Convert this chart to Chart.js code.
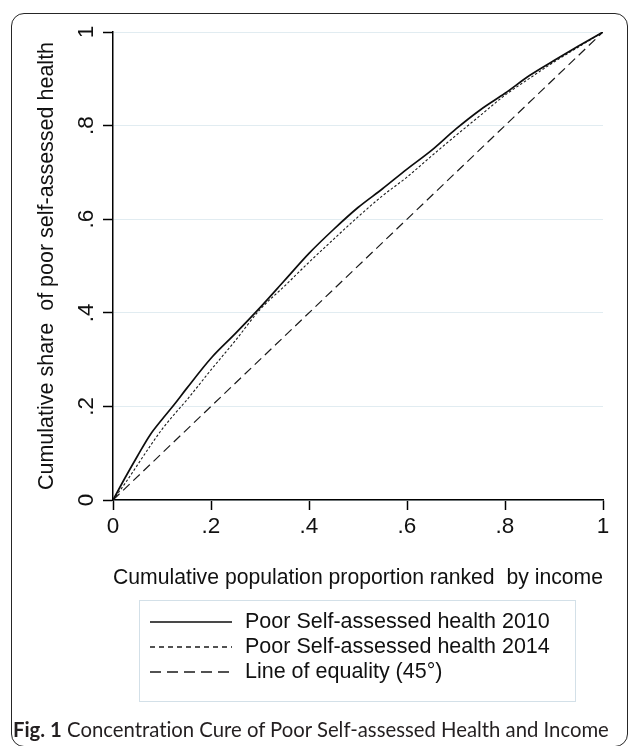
<!DOCTYPE html>
<html>
<head>
<meta charset="utf-8">
<script src="https://cdn.jsdelivr.net/npm/chart.js@4.4.1/dist/chart.umd.min.js"></script>
<style>
  html, body { margin: 0; padding: 0; background: #ffffff; }
  #wrap { position: relative; width: 630px; height: 746px; overflow: hidden; }
  #frame {
    position: absolute; left: 11px; top: 13px; width: 617px; height: 734px;
    box-sizing: border-box; border: 1.6px solid #262626; border-radius: 13px;
  }
  #c { position: absolute; left: 0; top: 0; }
  #caption {
    position: absolute; left: 13px; top: 717px; height: 24px; line-height: 24px;
    font-family: Lato, sans-serif; font-size: 20px; color: #231f20;
    white-space: pre; font-variant-ligatures: none; font-feature-settings: "liga" 0, "clig" 0;
  }
  #caption b { font-weight: 700; }
</style>
</head>
<body>
<div id="wrap">
  <div id="frame"></div>
  <canvas id="c" width="630" height="746"></canvas>
  <div id="caption"><b id="capBold"></b><span id="capText"></span></div>
</div>
<script>
// Cumulative population share ranked by income (x) and cumulative share of poor SAH (y)
const popShare = [0, 0.025, 0.05, 0.075, 0.10, 0.125, 0.15, 0.20, 0.25, 0.30, 0.35, 0.40,
                  0.45, 0.50, 0.55, 0.60, 0.65, 0.70, 0.75, 0.80, 0.85, 0.90, 0.95, 1.0];
const poorSAH2010 = [0, 0.048, 0.094, 0.138, 0.172, 0.204, 0.238, 0.303, 0.356, 0.411, 0.469, 0.527,
                     0.578, 0.625, 0.665, 0.707, 0.747, 0.793, 0.834, 0.869, 0.907, 0.939, 0.970, 1.0];
const poorSAH2014 = [0, 0.036, 0.075, 0.114, 0.151, 0.183, 0.213, 0.278, 0.341, 0.407, 0.457, 0.508,
                     0.557, 0.605, 0.650, 0.690, 0.735, 0.779, 0.822, 0.865, 0.901, 0.936, 0.968, 1.0];
const equalityX = [0, 1];
const equalityY = [0, 1];

const seriesLabels = ['Poor Self-assessed health 2010', 'Poor Self-assessed health 2014', 'Line of equality (45\u00b0)'];
const tickValues = [0, 0.2, 0.4, 0.6, 0.8, 1];
const tickLabels = ['0', '.2', '.4', '.6', '.8', '1'];
const xTitle = 'Cumulative population proportion ranked  by income';
const yTitle = 'Cumulative share  of poor self-assessed health';
const captionBold = 'Fig. 1';
const captionText = ' Concentration Cure of Poor Self-assessed Health and Income';

const FONT = '"Liberation Sans", Arial, sans-serif';
const INK = '#111111';
const legendDashes = [[], [5, 4], [11, 6]];

const toPoints = (xs, ys) => xs.map((x, i) => ({ x: x, y: ys[i] }));

// Figure caption, scaled so it spans the frame width
(function () {
  document.getElementById('capBold').textContent = captionBold;
  document.getElementById('capText').textContent = captionText;
  const cap = document.getElementById('caption');
  const w = cap.getBoundingClientRect().width;
  const size = 20 * 596 / w;
  cap.style.fontSize = size + 'px';
})();

// Boxed legend below the axis title
const boxLegend = {
  id: 'boxLegend',
  afterDraw(chart) {
    const ctx = chart.ctx;
    ctx.save();
    ctx.strokeStyle = '#d3e0e8';
    ctx.lineWidth = 1;
    ctx.strokeRect(139.5, 600.5, 436, 101);
    ctx.font = '21.5px ' + FONT;
    ctx.textBaseline = 'middle';
    chart.data.datasets.forEach((ds, i) => {
      const y = 622 + i * 25;
      ctx.beginPath();
      ctx.setLineDash(legendDashes[i]);
      ctx.lineWidth = i === 0 ? 1.6 : 1.3;
      ctx.strokeStyle = ds.borderColor;
      ctx.moveTo(150, y);
      ctx.lineTo(232, y);
      ctx.stroke();
      ctx.setLineDash([]);
      ctx.fillStyle = INK;
      ctx.fillText(ds.label, 245, y);
    });
    ctx.restore();
  }
};

new Chart(document.getElementById('c'), {
  type: 'line',
  data: {
    datasets: [
      {
        label: seriesLabels[0],
        data: toPoints(popShare, poorSAH2010),
        borderColor: '#0d0d0d',
        borderWidth: 1.7,
        pointRadius: 0,
        cubicInterpolationMode: 'monotone',
        fill: false
      },
      {
        label: seriesLabels[1],
        data: toPoints(popShare, poorSAH2014),
        borderColor: '#1a1a1a',
        borderWidth: 1.1,
        borderDash: [2.5, 2],
        pointRadius: 0,
        cubicInterpolationMode: 'monotone',
        fill: false
      },
      {
        label: seriesLabels[2],
        data: toPoints(equalityX, equalityY),
        borderColor: '#1a1a1a',
        borderWidth: 1.2,
        borderDash: [9, 5],
        pointRadius: 0,
        fill: false
      }
    ]
  },
  options: {
    responsive: false,
    animation: false,
    devicePixelRatio: 1,
    layout: { padding: { left: 0, top: 32, right: 27, bottom: 146 } },
    plugins: { legend: { display: false }, tooltip: { enabled: false } },
    scales: {
      x: {
        type: 'linear',
        position: 'bottom',
        min: 0,
        max: 1,
        afterBuildTicks: (s) => { s.ticks = tickValues.map(v => ({ value: v })); },
        afterFit: (s) => { s.height = 100; },
        ticks: {
          callback: (v, i) => tickLabels[i],
          font: { family: FONT, size: 22.5 },
          color: INK,
          padding: 3,
          maxRotation: 0,
          autoSkip: false
        },
        grid: { drawOnChartArea: false, drawTicks: true, tickLength: 10, tickColor: '#000', tickWidth: 1.5 },
        border: { display: true, color: '#000', width: 1.5 },
        title: {
          display: true,
          text: xTitle,
          color: INK,
          font: { family: FONT, size: 21.5 },
          padding: { top: 0, bottom: 9 }
        }
      },
      y: {
        type: 'linear',
        position: 'left',
        min: 0,
        max: 1,
        afterBuildTicks: (s) => { s.ticks = tickValues.map(v => ({ value: v })); },
        afterFit: (s) => { s.width = 113; },
        ticks: {
          callback: (v, i) => tickLabels[i],
          font: { family: FONT, size: 22.5 },
          color: INK,
          minRotation: 90,
          maxRotation: 90,
          crossAlign: 'center',
          padding: 7,
          autoSkip: false
        },
        grid: { color: '#e1ecf1', lineWidth: 1, drawTicks: true, tickLength: 10, tickColor: '#000', tickWidth: 1.5 },
        border: { display: true, color: '#000', width: 1.5 },
        title: {
          display: true,
          text: yTitle,
          color: INK,
          font: { family: FONT, size: 21.5 },
          padding: { top: 34, bottom: 0 }
        }
      }
    }
  },
  plugins: [boxLegend]
});
</script>
</body>
</html>
